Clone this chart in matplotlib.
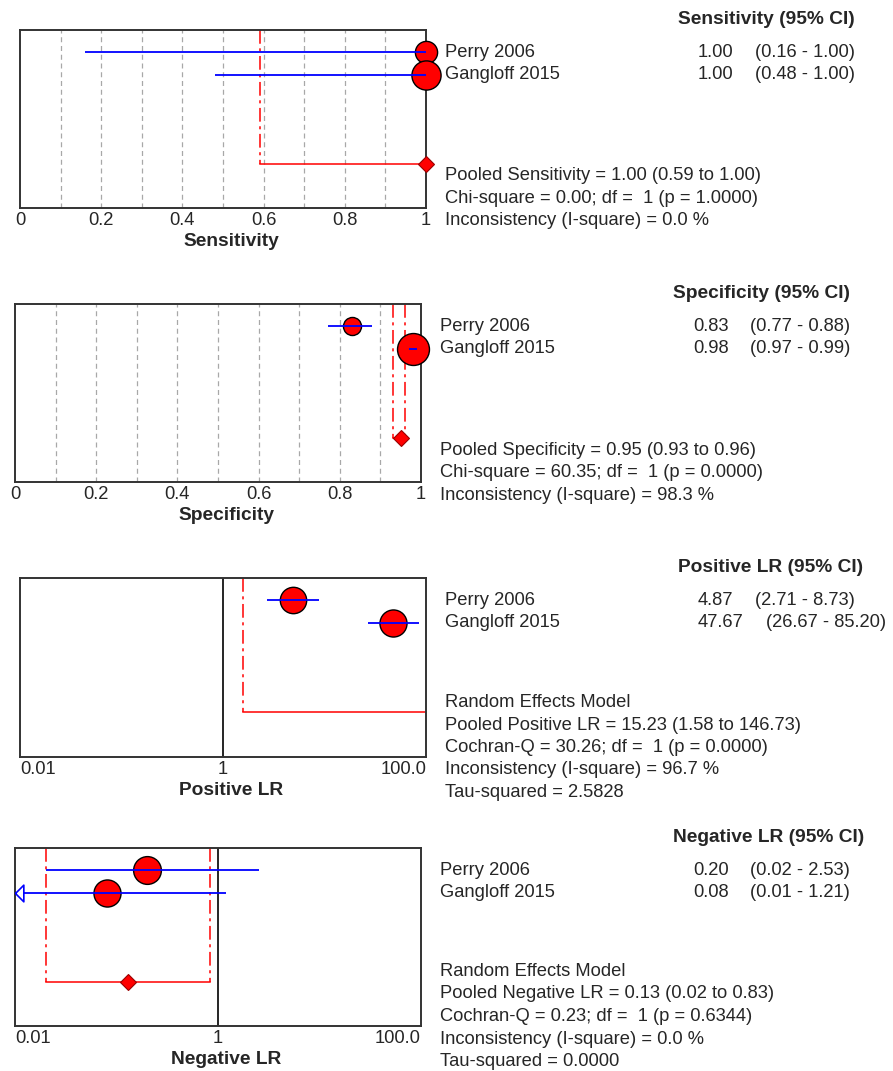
import numpy as np
import matplotlib.pyplot as plt
from matplotlib.transforms import blended_transform_factory, ScaledTranslation

plt.rcParams['font.family'] = ['Liberation Sans', 'DejaVu Sans']

W, H = 893, 1071

studies = ['Perry 2006', 'Gangloff 2015']

# sensitivity
sens = [1.00, 1.00]
sens_lo = [0.16, 0.48]
sens_hi = [1.00, 1.00]
sens_pool = [1.00, 0.59, 1.00]
sens_stats = ['Pooled Sensitivity = 1.00 (0.59 to 1.00)',
              'Chi-square = 0.00; df =  1 (p = 1.0000)',
              'Inconsistency (I-square) = 0.0 %']

# specificity
spec = [0.83, 0.98]
spec_lo = [0.77, 0.97]
spec_hi = [0.88, 0.99]
spec_pool = [0.95, 0.93, 0.96]
spec_stats = ['Pooled Specificity = 0.95 (0.93 to 0.96)',
              'Chi-square = 60.35; df =  1 (p = 0.0000)',
              'Inconsistency (I-square) = 98.3 %']

# positive LR
plr = [4.87, 47.67]
plr_lo = [2.71, 26.67]
plr_hi = [8.73, 85.20]
plr_pool = [15.23, 1.58, 146.73]
plr_stats = ['Random Effects Model',
             'Pooled Positive LR = 15.23 (1.58 to 146.73)',
             'Cochran-Q = 30.26; df =  1 (p = 0.0000)',
             'Inconsistency (I-square) = 96.7 %',
             'Tau-squared = 2.5828']

# negative LR
nlr = [0.20, 0.08]
nlr_lo = [0.02, 0.01]
nlr_hi = [2.53, 1.21]
nlr_pool = [0.13, 0.02, 0.83]
nlr_stats = ['Random Effects Model',
             'Pooled Negative LR = 0.13 (0.02 to 0.83)',
             'Cochran-Q = 0.23; df =  1 (p = 0.6344)',
             'Inconsistency (I-square) = 0.0 %',
             'Tau-squared = 0.0000']

fig = plt.figure(figsize=(W / 100, H / 100), dpi=100)
TXT = '#262626'
FS = 13.2
FSB = 13.8

# arrow marker with tip at the origin
arrow = [(0, 0), (1, 1), (1, -1), (0, 0)]


def draw_panel(box, est, lo, hi, pool, log, xlabel, header, stats, sizes):
    x0, y0, x1, y1 = box
    ax = fig.add_axes([x0 / W, 1 - y1 / H, (x1 - x0) / W, (y1 - y0) / H])
    if log:
        ax.set_xscale('log')
        ax.set_xlim(0.01, 100)
        ax.set_xticks([0.01, 1, 100])
        ax.set_xticklabels(['0.01', '1', '100.0'])
        ax.minorticks_off()
        ax.axvline(1, color='black', lw=1.2, zorder=1)
        labs = ax.get_xticklabels()
        labs[0].set_ha('left')
        labs[-1].set_ha('right')
    else:
        ax.set_xlim(0, 1)
        ax.set_xticks([0, 0.2, 0.4, 0.6, 0.8, 1])
        ax.set_xticklabels(['0', '0.2', '0.4', '0.6', '0.8', '1'])
        for g in np.arange(1, 10) / 10:
            ax.axvline(g, color='#a8a8a8', lw=0.9, dashes=(4, 3), zorder=0)
        off = ScaledTranslation(0.08, 0, fig.dpi_scale_trans)
        for lab in ax.get_xticklabels()[1:-1]:
            lab.set_transform(lab.get_transform() + off)
    ax.set_ylim(8, 0)
    ax.set_yticks([])
    ax.tick_params(axis='x', length=0, pad=3, labelsize=FS, colors=TXT)
    for s in ax.spines.values():
        s.set_color('#333333')
        s.set_linewidth(1.4)
    ax.set_xlabel(xlabel, fontsize=FSB, fontweight='bold', color=TXT)
    ax.xaxis.set_label_coords(0.52, -25 / (y1 - y0))

    xmin, xmax = ax.get_xlim()
    rows = [1, 2]
    pooled_y = 6
    for r, e, l, h, ms in zip(rows, est, lo, hi, sizes):
        ax.plot(e, r, 'o', ms=ms, mfc='#ff0000', mec='black', mew=1,
                clip_on=False, zorder=3)
        ax.plot([max(l, xmin), min(h, xmax)], [r, r], color='#0000ff',
                lw=1.3, zorder=4, solid_capstyle='butt')
        if l <= xmin:
            ax.plot(xmin, r, marker=arrow, ms=12, mfc='white', mec='#0000ff',
                    mew=1.2, clip_on=False, zorder=4)

    pe, pl, ph = pool
    for v in (pl, ph):
        if xmin < v < xmax:
            ax.plot([v, v], [0, pooled_y], color='#ff0000', lw=1.1,
                    dashes=(9, 3, 2, 3), zorder=2)
    ax.plot([max(pl, xmin), min(ph, xmax)], [pooled_y, pooled_y],
            color='#ff0000', lw=1.1, zorder=2)
    if xmin <= pl and ph <= xmax:
        ax.plot(pe, pooled_y, 'D', ms=8, mfc='#ff0000', mec='#990000',
                mew=0.8, clip_on=False, zorder=5)

    # right-hand text
    tr = blended_transform_factory(fig.transFigure, ax.transData)
    name_x = (x1 + 19) / W
    val_x = x1 + 272
    for r, name, e, l, h in zip(rows, studies, est, lo, hi):
        ax.text(name_x, r, name, transform=tr, fontsize=FS, color=TXT,
                va='center', ha='left')
        ax.text(val_x / W, r, f'{e:.2f}', transform=tr, fontsize=FS,
                color=TXT, va='center', ha='left')
        ax.text((val_x + 57 + (11 if e >= 10 else 0)) / W, r,
                f'({l:.2f} - {h:.2f})', transform=tr, fontsize=FS,
                color=TXT, va='center', ha='left')
    fig.text((x1 + 252) / W, 1 - (y0 - 11) / H, header, fontsize=FSB,
             fontweight='bold', color=TXT, va='center', ha='left')
    k = 3 if len(stats) == 5 else 2
    top = y1 + 13 - 22.5 * k
    for i, line in enumerate(stats):
        fig.text(name_x, 1 - (top + 22.5 * i) / H, line, fontsize=FS,
                 color=TXT, va='center', ha='left')
    return ax


draw_panel((20, 30, 426, 208), sens, sens_lo, sens_hi, sens_pool, False,
           'Sensitivity', 'Sensitivity (95% CI)', sens_stats, [16, 21])
draw_panel((15, 304, 421, 482), spec, spec_lo, spec_hi, spec_pool, False,
           'Specificity', 'Specificity (95% CI)', spec_stats, [13, 23])
draw_panel((20, 578, 426, 757), plr, plr_lo, plr_hi, plr_pool, True,
           'Positive LR', 'Positive LR (95% CI)', plr_stats, [19, 19.5])
draw_panel((15, 848, 421, 1026), nlr, nlr_lo, nlr_hi, nlr_pool, True,
           'Negative LR', 'Negative LR (95% CI)', nlr_stats, [20, 19.5])

fig.savefig('out.png', dpi=100, facecolor='white')
